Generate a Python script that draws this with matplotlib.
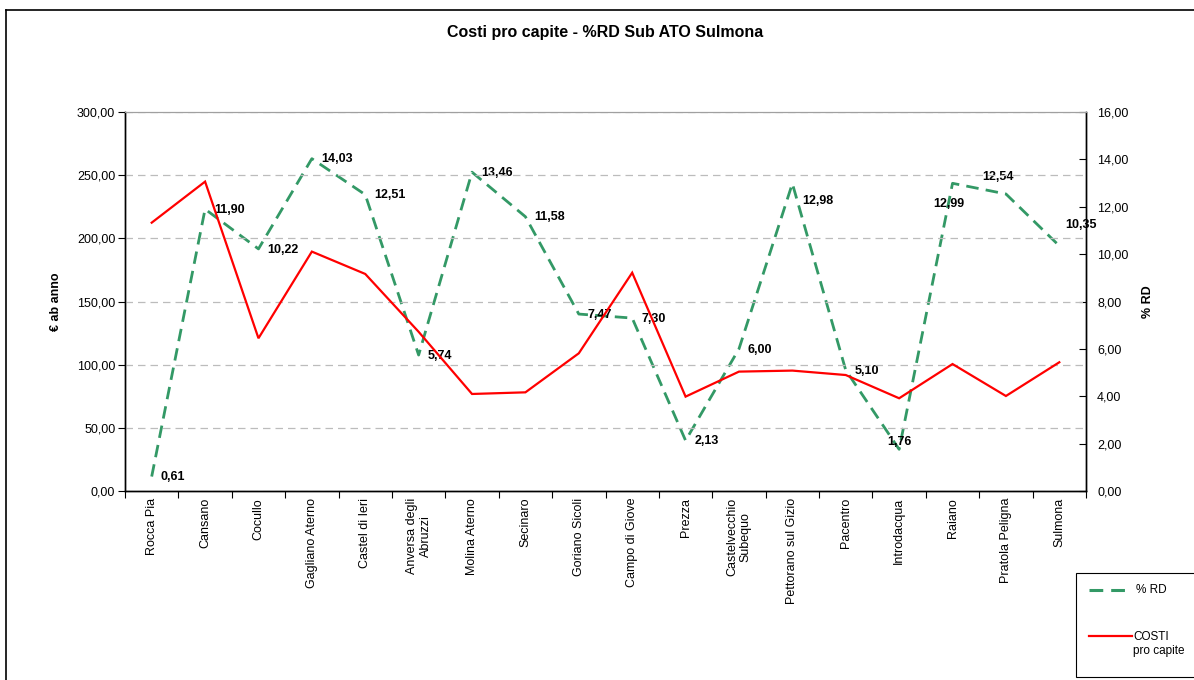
import matplotlib
matplotlib.use('Agg')
import matplotlib.pyplot as plt
import numpy as np
from matplotlib.lines import Line2D
from matplotlib.patches import Rectangle
from matplotlib.ticker import FuncFormatter

plt.rcParams['font.family'] = ['Liberation Sans', 'DejaVu Sans']

# ---------------- data ----------------
comuni = ["Rocca Pia", "Cansano", "Cocullo", "Gagliano Aterno", "Castel di Ieri",
          "Anversa degli\nAbruzzi", "Molina Aterno", "Secinaro", "Goriano Sicoli",
          "Campo di Giove", "Prezza", "Castelvecchio\nSubequo", "Pettorano sul Gizio",
          "Pacentro", "Introdacqua", "Raiano", "Pratola Peligna", "Sulmona"]
costi = [212.4, 244.9, 120.9, 189.5, 171.8, 126.0, 76.8, 78.1, 109.0,
         172.8, 74.7, 94.5, 95.3, 91.8, 73.4, 100.5, 75.2, 101.9]
rd = [0.61, 11.90, 10.22, 14.03, 12.51, 5.74, 13.46, 11.58, 7.47,
      7.30, 2.13, 6.00, 12.98, 5.10, 1.76, 12.99, 12.54, 10.35]
left_ticks = [0, 50, 100, 150, 200, 250, 300]
right_ticks = [0, 2, 4, 6, 8, 10, 12, 14, 16]

# ---------------- styling ----------------
W, H = 1194, 680
GREEN = '#339966'
RED = '#ff0000'

fig = plt.figure(figsize=(W / 100, H / 100), dpi=100)
fig.patch.set_facecolor('white')

def fx(px):
    return px / W

def fy(py):
    return 1 - py / H

L, R, T, B = 125, 1086, 112, 491
ax = fig.add_axes([fx(L), fy(B), fx(R) - fx(L), fy(T) - fy(B)])
ax2 = ax.twinx()
ax.set_zorder(ax2.get_zorder() + 1)
ax.patch.set_visible(False)

x = np.arange(len(comuni))
ax.plot(x, costi, color=RED, lw=1.6, solid_joinstyle='miter', zorder=3)
ax2.plot(x, rd, color=GREEN, lw=2.0, dashes=(4.5, 2.6), zorder=3)

comma = FuncFormatter(lambda v, p: f"{v:.2f}".replace('.', ','))

ax.set_xlim(-0.5, len(comuni) - 0.5)
ax.set_ylim(0, 300)
ax2.set_ylim(0, 16)
ax.set_yticks(left_ticks)
ax2.set_yticks(right_ticks)
ax.yaxis.set_major_formatter(comma)
ax2.yaxis.set_major_formatter(comma)

ax.grid(axis='y', color='#bcbcbc', lw=0.9, ls=(0, (6, 4)))
ax.set_axisbelow(True)

# category ticks at boundaries, labels at centers
ax.set_xticks(np.arange(-0.5, len(comuni), 1))
ax.set_xticklabels([])
ax.set_xticks(x, minor=True)
ax.set_xticklabels(comuni, minor=True, rotation=90, fontsize=9,
                   multialignment='center', va='top', ha='center')
ax.tick_params(axis='x', which='major', direction='out', length=5, width=0.8)
ax.tick_params(axis='x', which='minor', length=0, pad=5)
ax.tick_params(axis='y', direction='out', length=5, width=0.8, labelsize=9, pad=2)
ax2.tick_params(axis='y', direction='in', length=5, width=0.8, labelsize=9, pad=8)

for s in ['left', 'bottom', 'right']:
    ax.spines[s].set_color('black')
    ax.spines[s].set_linewidth(1.0)
    ax2.spines[s].set_color('black')
    ax2.spines[s].set_linewidth(1.0)
ax.spines['top'].set_color('#a0a0a0')
ax2.spines['top'].set_color('#a0a0a0')

ax.set_ylabel("€ ab anno", fontsize=9, fontweight='bold')
ax.yaxis.set_label_coords(-0.0656, 0.5)
ax2.set_ylabel("% RD", fontsize=9, fontweight='bold')
ax2.yaxis.set_label_coords(1.058, 0.5)

# data labels
offsets = {12: (7, -12.5, 'left'), 14: (0, 5.5, 'center'), 15: (-2.7, -15, 'center'),
           16: (-6, 12, 'center'), 17: (4, 15, 'left')}
for i, v in enumerate(rd):
    dx, dy, ha = offsets.get(i, (6.5, -0.5, 'left'))
    ax2.annotate(f"{v:.2f}".replace('.', ','), (x[i], v), xytext=(dx, dy),
                 textcoords='offset points', ha=ha, va='center',
                 fontsize=9, fontweight='bold', color='black', zorder=5)

# title
fig.text(fx(605), fy(32), "Costi pro capite - %RD Sub ATO Sulmona",
         ha='center', va='center', fontsize=11.5, fontweight='bold')

# chart border (extends beyond right/bottom)
fig.add_artist(Line2D([fx(5.5), fx(W + 5)], [fy(9.5), fy(9.5)], color='black', lw=1.2))
fig.add_artist(Line2D([fx(5.5), fx(5.5)], [fy(9.5), fy(H + 5)], color='black', lw=1.2))

# legend box
fig.add_artist(Rectangle((fx(1076), fy(677)), fx(1210) - fx(1076), fy(573) - fy(677),
                         transform=fig.transFigure, fill=True, facecolor='white',
                         edgecolor='black', lw=0.8))
fig.add_artist(Line2D([fx(1089), fx(1132)], [fy(590), fy(590)], color=GREEN, lw=2.2,
                      dashes=(4.5, 2.6)))
fig.text(fx(1136), fy(590), "% RD", ha='left', va='center', fontsize=8.5)
fig.add_artist(Line2D([fx(1089), fx(1132)], [fy(636), fy(636)], color=RED, lw=1.6))
fig.text(fx(1133), fy(631), "COSTI\npro capite", ha='left', va='top', fontsize=8.5,
         linespacing=1.2)

fig.savefig('out.png', dpi=100)
